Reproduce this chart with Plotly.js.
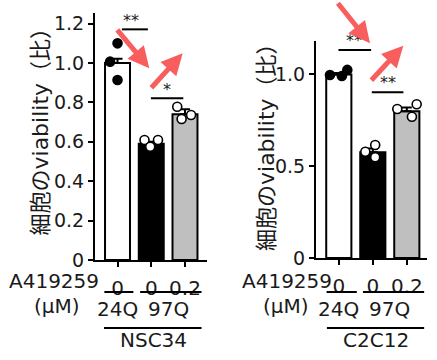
<!DOCTYPE html>
<html>
<head>
<meta charset="utf-8">
<script src="https://cdn.plot.ly/plotly-3.0.1.min.js"></script>
<style>html,body{margin:0;padding:0;background:#fff;}#chart{width:437px;height:360px;}</style>
</head>
<body>
<div id="chart"></div>
<script>
// ---- data ----
const doseLabels = ['0', '0', '0.2'];          // A419259 (µM)
const groupLabels = ['24Q', '97Q'];
const cellLines = ['NSC34', 'C2C12'];
const drugName = 'A419259';
const doseUnit = '(μM)';
const yTitle = '細胞のviability（比）';

const nscMean = [1.00, 0.59, 0.74];
const nscSem = [0.022, 0.010, 0.025];
const nscPts24Q = [1.10, 1.007, 0.914];
const nscPts97Q0 = [0.609, 0.609, 0.575];
const nscPts97Q02 = [0.778, 0.736, 0.716];
const nscSig = ['**', '*'];
const nscSigLevel = [1.171, 0.821];

const c2cMean = [1.00, 0.576, 0.80];
const c2cSem = [0.008, 0.020, 0.020];
const c2cPts24Q = [0.997, 0.992, 1.025];
const c2cPts97Q0 = [0.579, 0.616, 0.549];
const c2cPts97Q02 = [0.812, 0.838, 0.770];
const c2cSig = ['**', '**'];
const c2cSigLevel = [1.134, 0.903];

// jitter offsets for the dot plot (layout only)
const nscJit = [[0.0, -0.22, 0.0], [-0.2, 0.2, -0.03], [-0.23, 0.18, -0.1]];
const c2cJit = [[-0.26, 0.09, 0.25], [-0.22, 0.07, 0.07], [-0.28, 0.29, 0.15]];

// ---- styling ----
const W = 437, H = 360;
const INK = '#1a1a1a';
const ARROW = '#f85e5e';
const barColors = ['#ffffff', '#000000', '#bfbfbf'];
const tickFont = {family: 'DejaVu Sans, Verdana, sans-serif', size: 19, color: INK};
const labFont = {family: 'DejaVu Sans, Verdana, sans-serif', size: 20, color: INK};
const titleFont = {family: 'DejaVu Sans, "Noto Sans CJK JP", sans-serif', size: 22, color: INK};
const px = v => v / W, py = v => 1 - v / H;

function panel(mean, sem, pts, jit, xa, ya) {
  const idx = [0, 1, 2];
  const traces = [{
    type: 'bar', x: idx, y: mean, width: 0.74, xaxis: xa, yaxis: ya,
    marker: {color: barColors, line: {color: '#000', width: 2}},
    error_y: {type: 'data', symmetric: false, array: sem, arrayminus: [0, 0, 0],
              color: '#000', thickness: 2, width: 5},
    hoverinfo: 'skip', showlegend: false
  }];
  pts.forEach((vals, g) => {
    traces.push({
      type: 'scatter', mode: 'markers', xaxis: xa, yaxis: ya,
      x: vals.map((_, i) => g + jit[g][i]), y: vals,
      marker: {size: 9, color: g === 0 ? '#000' : '#fff', line: {color: '#000', width: 1.6}},
      cliponaxis: false, hoverinfo: 'skip', showlegend: false
    });
  });
  return traces;
}

const data = [
  ...panel(nscMean, nscSem, [nscPts24Q, nscPts97Q0, nscPts97Q02], nscJit, 'x', 'y'),
  ...panel(c2cMean, c2cSem, [c2cPts24Q, c2cPts97Q0, c2cPts97Q02], c2cJit, 'x2', 'y2')
];

const xCommon = {
  tickvals: [0, 1, 2], ticktext: doseLabels, tickfont: labFont, ticklabelstandoff: 4,
  showline: true, linewidth: 2, linecolor: '#000', ticks: 'outside', ticklen: 5,
  tickwidth: 2, tickcolor: '#000', showgrid: false, zeroline: false, fixedrange: true
};
const yCommon = {
  tickfont: tickFont, showline: true, linewidth: 2, linecolor: '#000',
  ticks: 'outside', ticklen: 5, tickwidth: 2, tickcolor: '#000',
  showgrid: false, zeroline: false, fixedrange: true
};

const shapes = [];
const annotations = [];
function line(xref, x0, x1, yref, y0, y1) {
  shapes.push({type: 'line', xref, yref, x0, x1, y0, y1, line: {color: '#000', width: 2}});
}
function text(t, x, y, xref, yref, font, extra) {
  annotations.push(Object.assign({text: t, x, y, xref, yref, showarrow: false, font,
    xanchor: 'center', yanchor: 'middle'}, extra || {}));
}

// significance brackets
const starFont = {family: 'DejaVu Sans, sans-serif', size: 16, color: INK};
line('x', 0.13, 0.90, 'y', nscSigLevel[0], nscSigLevel[0]);
text(nscSig[0], 0.40, nscSigLevel[0] - 0.012, 'x', 'y', starFont, {yanchor: 'bottom'});
line('x', 0.99, 1.95, 'y', nscSigLevel[1], nscSigLevel[1]);
text(nscSig[1], 1.47, nscSigLevel[1] - 0.012, 'x', 'y', starFont, {yanchor: 'bottom'});
line('x2', -0.01, 0.95, 'y2', c2cSigLevel[0], c2cSigLevel[0]);
text(c2cSig[0], 0.45, c2cSigLevel[0] - 0.012, 'x2', 'y2', starFont, {yanchor: 'bottom'});
line('x2', 0.97, 1.90, 'y2', c2cSigLevel[1], c2cSigLevel[1]);
text(c2cSig[1], 1.46, c2cSigLevel[1] - 0.012, 'x2', 'y2', starFont, {yanchor: 'bottom'});

// group / cell-line labels under the axes
[['x', -0.39, 0.47, 0.67, 2.49, -0.40, 2.49, 1.07, cellLines[0]],
 ['x2', -0.36, 0.53, 0.71, 2.51, -0.35, 2.51, 1.10, cellLines[1]]].forEach(p => {
  const [xr, a0, a1, b0, b1, c0, c1, cx, name] = p;
  line(xr, a0, a1, 'paper', py(292), py(292));
  line(xr, b0, b1, 'paper', py(292), py(292));
  line(xr, c0, c1, 'paper', py(328), py(328));
  text(groupLabels[0], 0.0, py(309), xr, 'paper', labFont);
  text(groupLabels[1], 1.5, py(309), xr, 'paper', labFont);
  text(name, cx, py(340), xr, 'paper', labFont);
});

// drug name / unit
text(drugName, px(101), py(281), 'paper', 'paper', labFont, {xanchor: 'right'});
text(doseUnit, px(56.5), py(306), 'paper', 'paper', labFont);
text(drugName, px(334), py(281), 'paper', 'paper', labFont, {xanchor: 'right'});
text(doseUnit, px(286), py(306), 'paper', 'paper', labFont);

// y titles
text(yTitle, px(40), py(126.5), 'paper', 'paper', titleFont, {textangle: -90});
text(yTitle, px(266.5), py(141.5), 'paper', 'paper', titleFont, {textangle: -90});

// red arrows (tip, tail)
[[149.3, 68.3, 116, 28.3], [182.7, 53.3, 150, 89.3],
 [370, 43.3, 336.7, 1.7], [403.3, 45.7, 370, 81.7]].forEach(a => {
  annotations.push({
    text: '', x: px(a[0]), y: py(a[1]), xref: 'paper', yref: 'paper',
    showarrow: true, ax: a[2] - a[0], ay: a[3] - a[1], axref: 'pixel', ayref: 'pixel',
    arrowhead: 2, arrowsize: 0.85, arrowwidth: 5, arrowcolor: ARROW, standoff: 0
  });
});

const layout = {
  width: W, height: H, margin: {l: 0, r: 0, t: 0, b: 0},
  paper_bgcolor: '#fff', plot_bgcolor: 'rgba(0,0,0,0)', showlegend: false,
  font: labFont,
  xaxis: Object.assign({}, xCommon, {domain: [px(95), px(207)], range: [-0.667, 2.652], anchor: 'y'}),
  yaxis: Object.assign({}, yCommon, {domain: [py(260), py(13)], range: [0, 1.254], anchor: 'x',
    tickvals: [0, 0.2, 0.4, 0.6, 0.8, 1.0, 1.2], ticktext: ['0', '0.2', '0.4', '0.6', '0.8', '1.0', '1.2']}),
  xaxis2: Object.assign({}, xCommon, {domain: [px(316), px(426.7)], range: [-0.671, 2.585], anchor: 'y2'}),
  yaxis2: Object.assign({}, yCommon, {domain: [py(258), py(40.7)], range: [0, 1.184], anchor: 'x2',
    tickvals: [0, 0.5, 1.0], ticktext: ['0', '0.5', '1.0']}),
  shapes, annotations
};

Plotly.newPlot('chart', data, layout, {staticPlot: true, displayModeBar: false});
</script>
</body>
</html>
